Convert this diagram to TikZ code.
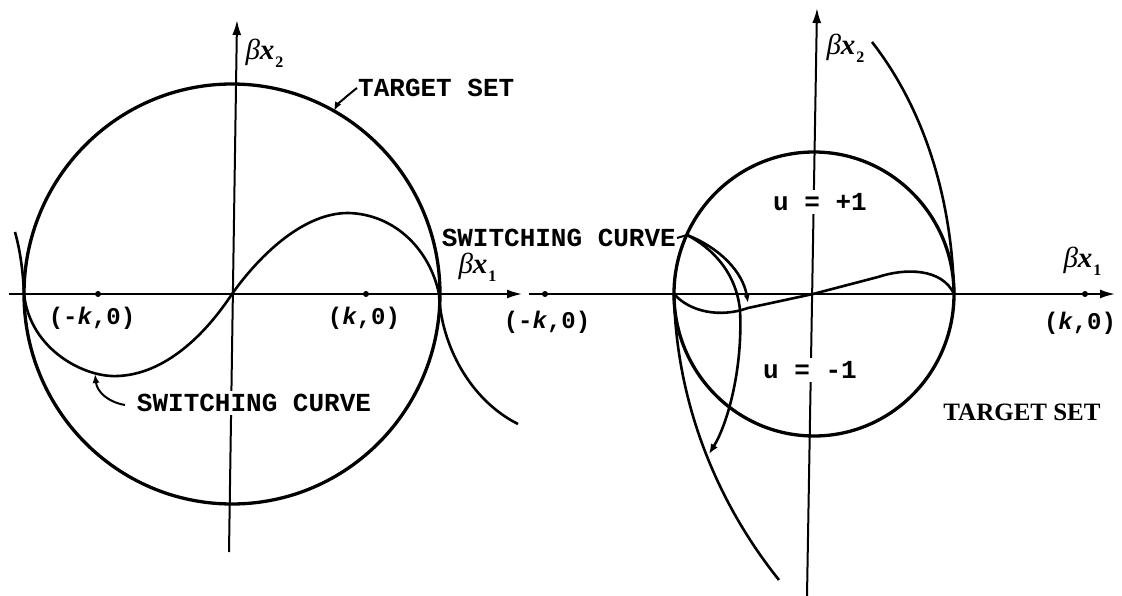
\documentclass[tikz,border=0pt]{standalone}
\usepackage{fontspec}
\setmainfont{Liberation Serif}
\newfontfamily\tw{Liberation Mono}
\usetikzlibrary{arrows.meta}
\newcommand\bxl[1]{{\fontsize{29}{29}\selectfont\itshape β\bfseries x}\kern1pt\raisebox{-8pt}{\fontsize{16}{16}\selectfont\bfseries #1}}
\begin{document}
\begin{tikzpicture}[x=1pt,y=-1pt,
 axis/.style={line width=2pt,-{Latex[length=15pt,width=9pt]}},
 bold/.style={line width=3.3pt},
 curve/.style={line width=2.6pt},
 leader/.style={line width=2pt,-{Latex[length=9pt,width=7pt]}},
 dotmark/.style={circle,fill=black,inner sep=0pt,minimum size=6pt},
 tlabel/.style={font=\tw\bfseries\fontsize{26}{26}\selectfont,inner sep=1pt},
 klabel/.style={font=\tw\bfseries\fontsize{24}{24}\selectfont,inner sep=1pt},
 rlabel/.style={font=\bfseries\fontsize{25}{25}\selectfont,inner sep=1pt}]
\useasboundingbox (0,0) rectangle (1122,596);
% ---------- left diagram ----------
\coordinate (LxS) at (9,294); \coordinate (LxE) at (522,294);
\coordinate (LyS) at (229,552); \coordinate (LyE) at (237,20);
\draw[axis] (LxS) -- (LxE);
\draw[axis] (LyS) -- (LyE);
\draw[bold] (232,294) ellipse [x radius=208pt, y radius=210pt];
\node[dotmark] (Lmk) at (98,294) {};
\node[dotmark] (Lpk) at (366,294) {};
\draw[curve] (24,294) .. controls (30,350) and (85,378) .. (118,376)
  .. controls (165,374) and (205,335) .. (232,294)
  .. controls (262,252) and (305,213) .. (348,213)
  .. controls (395,214) and (430,250) .. (439,294);
\draw[curve] (439,294) .. controls (441,345) and (470,400) .. (518,424);
\draw[curve] (24,294) .. controls (23,270) and (20,250) .. (15,232);
\node[anchor=base west] (Lb2) at (242,60) {\bxl{2}};
\node[anchor=base west] (Lb1) at (455,273) {\bxl{1}};
\node[tlabel,anchor=west] (Lts) at (357,88) {TARGET SET};
\coordinate (Ltstip) at (334,111);
\draw[leader] (Lts.west) .. controls +(-8,6) and +(3,-6) .. (Ltstip);
\node[tlabel,fill=white,inner sep=3pt] (Lsc) at (254,403) {SWITCHING CURVE};
\coordinate (Lscstart) at (125,405);
\coordinate (Lsctip) at (95,374);
\draw[leader] (Lscstart) .. controls (108,402) and (97,392) .. (Lsctip);
\node[klabel] (Lmkl) at (92,318) {(-\textit{k},0)};
\node[klabel] (Lpkl) at (364,318) {(\textit{k},0)};
% ---------- right diagram ----------
\coordinate (RxS) at (529,294); \coordinate (RxE) at (1115,294);
\coordinate (RyS) at (807,596); \coordinate (RyE) at (817,8);
\draw[axis] (RxS) -- (RxE);
\draw[axis] (RyS) -- (RyE);
\node[dotmark] (Rmk) at (545,294) {};
\node[dotmark] (Rpk) at (1085,294) {};
\draw[bold] (814,294) ellipse [x radius=140pt, y radius=142pt];
\draw[curve] (954,294) .. controls (952,200) and (925,110) .. (872,42);
\draw[curve] (674,294) .. controls (676,400) and (715,500) .. (779,580);
\draw[curve] (674,294) .. controls (690,312) and (720,318) .. (748,308)
  -- (813,294) -- (878,277) .. controls (905,268) and (942,268) .. (954,294);
\coordinate (Rtop) at (687,235);
\draw[curve,-{Latex[length=8pt,width=6pt]}] (Rtop) .. controls (720,248) and (743,272) .. (748,303);
\draw[curve,-{Latex[length=10pt,width=8pt]}] (Rtop) .. controls (712,248) and (736,272) .. (740,310)
  .. controls (743,370) and (727,425) .. (709,454);
\node[tlabel,anchor=east] (Rsc) at (677,238) {SWITCHING CURVE};
\draw[line width=2pt] (Rsc.east) -- (Rtop);
\node[tlabel,fill=white,inner sep=3pt] (Rup) at (820,202) {u = +1};
\node[tlabel,fill=white,inner sep=3pt] (Rdn) at (810,370) {u = -1};
\node[rlabel] (Rts) at (1022,412) {TARGET SET};
\node[klabel] (Rmkl) at (547,322) {(-\textit{k},0)};
\node[klabel] (Rpkl) at (1080,323) {(\textit{k},0)};
\node[anchor=base west] (Rb2) at (823,55) {\bxl{2}};
\node[anchor=base west] (Rb1) at (1060,268) {\bxl{1}};
\end{tikzpicture}
\end{document}
